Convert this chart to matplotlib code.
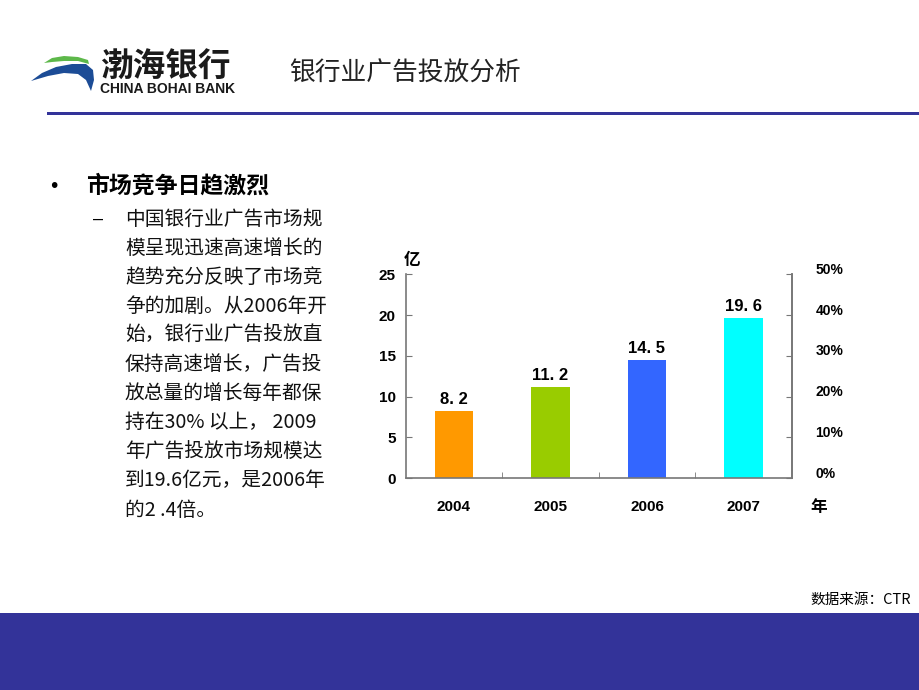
import matplotlib
matplotlib.use('Agg')
import numpy as np
import matplotlib.pyplot as plt
import matplotlib.transforms as mtransforms
from matplotlib.patches import Rectangle, Polygon
from matplotlib.ticker import FuncFormatter, FixedLocator

plt.rcParams['font.family'] = ['Noto Sans CJK SC', 'DejaVu Sans']

# data
years = ['2004', '2005', '2006', '2007']
spend = [8.2, 11.2, 14.5, 19.6]          # 亿元
spend_labels = ['8. 2', '11. 2', '14. 5', '19. 6']
bar_colors = ['#FF9900', '#99CC00', '#3366FF', '#00FFFF']
left_ticks = [0, 5, 10, 15, 20, 25]
right_ticks = [0, 0.1, 0.2, 0.3, 0.4, 0.5]

title = '银行业广告投放分析'
heading = '市场竞争日趋激烈'
body_lines = ['中国银行业广告市场规', '模呈现迅速高速增长的', '趋势充分反映了市场竞',
              '争的加剧。从2006年开', '始，银行业广告投放直', '保持高速增长，广告投',
              '放总量的增长每年都保', '持在30% 以上， 2009', '年广告投放市场规模达',
              '到19.6亿元，是2006年', '的2 .4倍。']
source = '数据来源：CTR'

W, H = 920, 690
navy = '#333399'
fig = plt.figure(figsize=(W / 100, H / 100), dpi=100)

# page decorations in pixel coords
bg = fig.add_axes([0, 0, 1, 1])
bg.set_xlim(0, W)
bg.set_ylim(H, 0)
bg.axis('off')
bg.add_patch(Rectangle((0, 613), W, H - 613, color=navy, lw=0))
bg.add_patch(Rectangle((47, 111.5), W - 47, 3.5, color=navy, lw=0))

# logo
bg.add_patch(Polygon([(44, 63), (52, 58), (64, 56), (78, 57), (88, 60), (89, 64),
                      (78, 61), (64, 61), (52, 62)], closed=True, color='#5DB84A', lw=0))
bg.add_patch(Polygon([(31, 81), (42, 73), (56, 67), (72, 64), (86, 64), (93, 70),
                      (94, 80), (91, 91), (86, 80), (78, 74), (64, 73), (48, 76)],
                     closed=True, color='#1C4C96', lw=0))
bg.text(100, 67, '渤海银行', fontsize=23.5, fontweight='bold', color='#1a1a1a',
        ha='left', va='center')
bg.text(100, 89, 'CHINA BOHAI BANK', fontsize=10, fontweight='bold', color='#1a1a1a',
        family='Liberation Sans', ha='left', va='center')

bg.text(289, 74, title, fontsize=18.5, color='#222222', ha='left', va='center')

bg.text(48, 186, '•', fontsize=14, color='black', ha='left', va='center', family='DejaVu Sans')
bg.text(86, 186, heading, fontsize=16.5, fontweight='bold', color='black', ha='left', va='center')
bg.text(93, 219, '–', fontsize=13, color='black', ha='left', va='center', family='Liberation Sans')
for i, line in enumerate(body_lines):
    bg.text(125, 219 + 29.1 * i, line, fontsize=14.2, color='#111111',
            ha='left', va='center', family=['Noto Sans CJK SC', 'Liberation Sans'])

bg.text(911, 600, source, fontsize=10.5, color='black', ha='right', va='center')

# chart
x0, x1 = 405.7, 791.7
y0, y1 = 478, 274.3
ax = fig.add_axes([x0 / W, 1 - y0 / H, (x1 - x0) / W, (y0 - y1) / H])
ax.patch.set_alpha(0)
x = np.arange(len(years))
ax.bar(x, spend, width=0.4, color=bar_colors, zorder=2)
ax.set_xlim(-0.5, len(years) - 0.5)
ax.set_ylim(0, 25)
ax.set_yticks(left_ticks)
ax.set_xticks(x)
ax.set_xticklabels(years)
ax.xaxis.set_minor_locator(FixedLocator(x[:-1] + 0.5))
ax.tick_params(axis='x', which='major', length=0, pad=16)
ax.tick_params(axis='x', which='minor', direction='in', length=4, color='#777777')
ax.tick_params(axis='y', direction='in', length=4, color='#777777', pad=7)
for lab in ax.get_xticklabels() + ax.get_yticklabels():
    lab.set_family('Liberation Sans')
    lab.set_fontweight('bold')
    lab.set_fontsize(11)
ax.spines['top'].set_visible(False)
for s in ['left', 'bottom', 'right']:
    ax.spines[s].set_color('#777777')
    ax.spines[s].set_linewidth(1.2)

for xi, v, t in zip(x, spend, spend_labels):
    ax.text(xi, v + 0.5, t, ha='center', va='bottom', fontsize=12,
            fontweight='bold', family='Liberation Sans')

ax2 = ax.twinx()
ax2.set_ylim(0, 0.5)
ax2.set_yticks(right_ticks)
ax2.yaxis.set_major_formatter(FuncFormatter(lambda v, p: f'{v * 100:.0f}%'))
ax2.tick_params(axis='y', direction='in', length=4, color='#777777', pad=17)
ax2.spines['top'].set_visible(False)
ax2.spines['left'].set_visible(False)
ax2.spines['bottom'].set_visible(False)
ax2.spines['right'].set_color('#777777')
ax2.spines['right'].set_linewidth(1.2)
shift = mtransforms.ScaledTranslation(0, 6 / 100, fig.dpi_scale_trans)
for lab in ax2.get_yticklabels():
    lab.set_family('Liberation Sans')
    lab.set_fontweight('bold')
    lab.set_fontsize(10)
    lab.set_transform(lab.get_transform() + shift)

bg.text(404, 260, '亿', fontsize=12, fontweight='bold', ha='left', va='center')
bg.text(810, 507, '年', fontsize=12, fontweight='bold', ha='left', va='center')

fig.savefig('out.png', dpi=100)
